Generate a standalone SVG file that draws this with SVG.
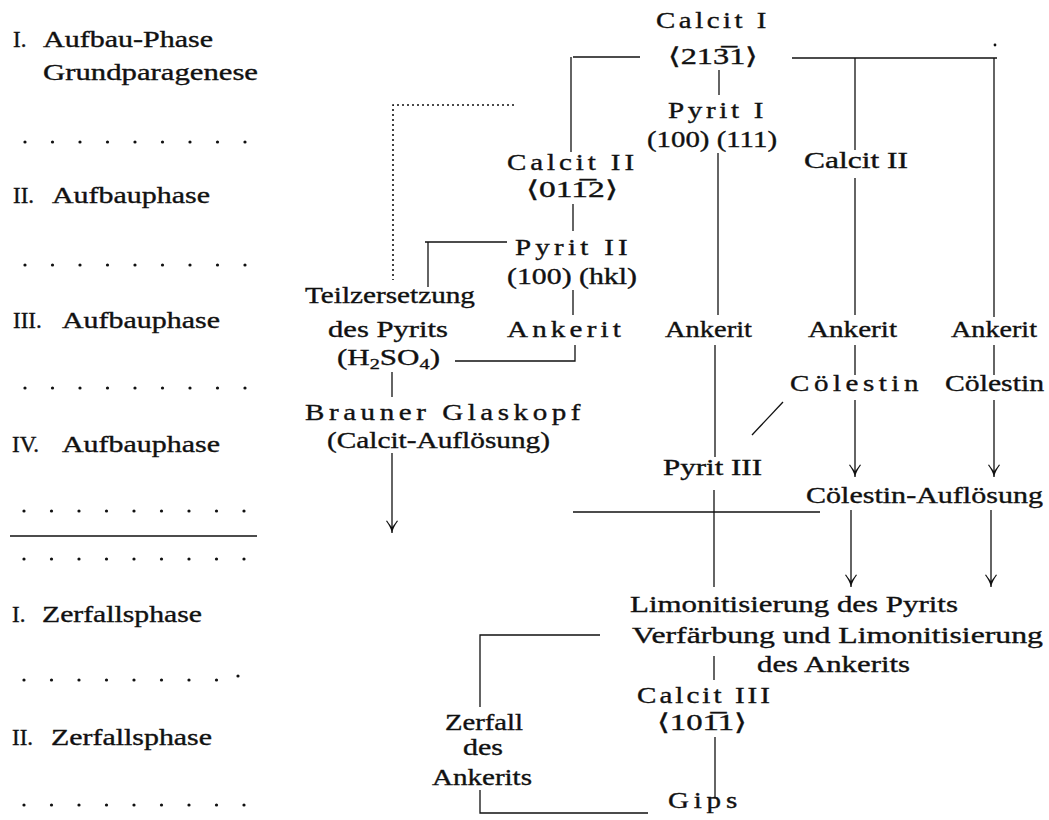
<svg xmlns="http://www.w3.org/2000/svg" width="1049" height="820" viewBox="0 0 1049 820">
<style>
  text { font-family: "Liberation Serif", "Times New Roman", serif; font-size: 23px; fill: #111; stroke: #111; stroke-width: 0.35; }
  .ln { stroke: #111; stroke-width: 1.3; fill: none; }
  .dot { stroke: #111; stroke-width: 1.6; fill: none; stroke-dasharray: 2 3; }
  .arr { marker-end: url(#ya); }
  .pd { fill: #111; }
</style>
<defs>
  <marker id="ya" markerUnits="userSpaceOnUse" orient="auto" markerWidth="16" markerHeight="16" refX="0" refY="0" overflow="visible">
    <path d="M0,0 C-4,-1 -8,-3 -12,-6 L-12.6,-5 C-9,-2.5 -7,-1 -6,0 C-7,1 -9,2.5 -12.6,5 L-12,6 C-8,3 -4,1 0,0 Z" fill="#111"/>
  </marker>
</defs>
<rect width="1049" height="820" fill="#fff"/>

<g id="phases">
  <g id="phase-a1"><text x="13" y="47">I.</text><text x="43" y="47" textLength="170" lengthAdjust="spacingAndGlyphs">Aufbau-Phase</text>
    <text x="43" y="80" textLength="215" lengthAdjust="spacingAndGlyphs">Grundparagenese</text></g>
  <g id="phase-a2"><text x="13" y="203">II.</text><text x="52" y="203" textLength="158" lengthAdjust="spacingAndGlyphs">Aufbauphase</text></g>
  <g id="phase-a3"><text x="13" y="328">III.</text><text x="62" y="328" textLength="158" lengthAdjust="spacingAndGlyphs">Aufbauphase</text></g>
  <g id="phase-a4"><text x="12" y="452">IV.</text><text x="62" y="452" textLength="158" lengthAdjust="spacingAndGlyphs">Aufbauphase</text></g>
  <g id="phase-z1"><text x="12" y="622">I.</text><text x="42" y="622" textLength="160" lengthAdjust="spacingAndGlyphs">Zerfallsphase</text></g>
  <g id="phase-z2"><text x="12" y="745">II.</text><text x="51" y="745" textLength="161" lengthAdjust="spacingAndGlyphs">Zerfallsphase</text></g>
</g>

<g id="phase-dots" class="pd">
  <g id="dots1"><circle cx="25" cy="142" r="1.6"/><circle cx="52.5" cy="142" r="1.6"/><circle cx="80" cy="142" r="1.6"/><circle cx="107.5" cy="142" r="1.6"/><circle cx="135" cy="142" r="1.6"/><circle cx="162.5" cy="142" r="1.6"/><circle cx="190" cy="142" r="1.6"/><circle cx="217.5" cy="142" r="1.6"/><circle cx="245" cy="142" r="1.6"/></g>
  <g id="dots2"><circle cx="25" cy="265" r="1.6"/><circle cx="52.5" cy="265" r="1.6"/><circle cx="80" cy="265" r="1.6"/><circle cx="107.5" cy="265" r="1.6"/><circle cx="135" cy="265" r="1.6"/><circle cx="162.5" cy="265" r="1.6"/><circle cx="190" cy="265" r="1.6"/><circle cx="217.5" cy="265" r="1.6"/><circle cx="245" cy="265" r="1.6"/></g>
  <g id="dots3"><circle cx="25" cy="388" r="1.6"/><circle cx="52.5" cy="388" r="1.6"/><circle cx="80" cy="388" r="1.6"/><circle cx="107.5" cy="388" r="1.6"/><circle cx="135" cy="388" r="1.6"/><circle cx="162.5" cy="388" r="1.6"/><circle cx="190" cy="388" r="1.6"/><circle cx="217.5" cy="388" r="1.6"/><circle cx="245" cy="388" r="1.6"/></g>
  <g id="dots4"><circle cx="24" cy="511" r="1.6"/><circle cx="51.5" cy="511" r="1.6"/><circle cx="79" cy="511" r="1.6"/><circle cx="106.5" cy="511" r="1.6"/><circle cx="134" cy="511" r="1.6"/><circle cx="161.5" cy="511" r="1.6"/><circle cx="189" cy="511" r="1.6"/><circle cx="216.5" cy="511" r="1.6"/><circle cx="244" cy="511" r="1.6"/></g>
  <g id="dots5"><circle cx="24" cy="559" r="1.6"/><circle cx="51.5" cy="559" r="1.6"/><circle cx="79" cy="559" r="1.6"/><circle cx="106.5" cy="559" r="1.6"/><circle cx="134" cy="559" r="1.6"/><circle cx="161.5" cy="559" r="1.6"/><circle cx="189" cy="559" r="1.6"/><circle cx="216.5" cy="559" r="1.6"/><circle cx="244" cy="559" r="1.6"/></g>
  <g id="dots6"><circle cx="24" cy="680" r="1.6"/><circle cx="51.5" cy="680" r="1.6"/><circle cx="79" cy="680" r="1.6"/><circle cx="106.5" cy="680" r="1.6"/><circle cx="134" cy="680" r="1.6"/><circle cx="161.5" cy="680" r="1.6"/><circle cx="189" cy="680" r="1.6"/><circle cx="216.5" cy="680" r="1.6"/><circle cx="238" cy="676" r="1.6"/></g>
  <g id="dots7"><circle cx="24" cy="805" r="1.6"/><circle cx="51.5" cy="805" r="1.6"/><circle cx="79" cy="805" r="1.6"/><circle cx="106.5" cy="805" r="1.6"/><circle cx="134" cy="805" r="1.6"/><circle cx="161.5" cy="805" r="1.6"/><circle cx="189" cy="805" r="1.6"/><circle cx="216.5" cy="805" r="1.6"/><circle cx="244" cy="805" r="1.6"/></g>
  <line class="ln" x1="10" y1="536" x2="257" y2="536" stroke-width="1.6"/>
</g>

<g id="connectors">
  <line class="ln" x1="573" y1="57" x2="640" y2="57"/>
  <line class="ln" x1="571" y1="57" x2="571" y2="152"/>
  <line class="ln" x1="719" y1="70" x2="719" y2="95"/>
  <line class="ln" x1="792" y1="58" x2="997" y2="58"/>
  <circle cx="995" cy="45" r="1.4" fill="#111"/>
  <line class="ln" x1="855" y1="58" x2="855" y2="150"/>
  <line class="ln" x1="994" y1="58" x2="994" y2="317"/>
  <line class="ln" x1="718" y1="153" x2="718" y2="315"/>
  <line class="ln" x1="855" y1="178" x2="855" y2="315"/>
  <path class="dot" d="M514,105 H393 V280"/>
  <line class="ln" x1="573" y1="204" x2="573" y2="231"/>
  <line class="ln" x1="425" y1="242" x2="507" y2="242"/>
  <line class="ln" x1="428" y1="242" x2="428" y2="287"/>
  <line class="ln" x1="573" y1="290" x2="573" y2="315"/>
  <polyline class="ln" points="575,345 575,361 455,361"/>
  <line class="ln" x1="392" y1="372" x2="392" y2="397"/>
  <line class="ln arr" x1="392" y1="453" x2="392" y2="533"/>
  <line class="ln" x1="715" y1="345" x2="715" y2="457"/>
  <line class="ln" x1="855" y1="345" x2="855" y2="375"/>
  <line class="ln" x1="994" y1="345" x2="994" y2="375"/>
  <line class="ln" x1="752" y1="435" x2="783" y2="402"/>
  <line class="ln arr" x1="855" y1="400" x2="855" y2="477"/>
  <line class="ln arr" x1="994" y1="400" x2="994" y2="477"/>
  <line class="ln" x1="714" y1="490" x2="714" y2="587"/>
  <line class="ln" x1="573" y1="512" x2="820" y2="512"/>
  <line class="ln arr" x1="851" y1="510" x2="851" y2="587"/>
  <line class="ln arr" x1="991" y1="510" x2="991" y2="587"/>
  <polyline class="ln" points="600,635 480,635 480,707"/>
  <line class="ln" x1="714" y1="656" x2="714" y2="680"/>
  <line class="ln" x1="715" y1="737" x2="715" y2="797"/>
  <polyline class="ln" points="480,790 480,813 648,813"/>
</g>

<g id="calcit1"><text x="656" y="28" letter-spacing="2.8" textLength="114" lengthAdjust="spacingAndGlyphs">Calcit I</text>
  <text x="668" y="64" textLength="90" lengthAdjust="spacingAndGlyphs">⟨213̅1⟩</text></g>
<g id="pyrit1"><text x="668" y="118" letter-spacing="2.9" textLength="99" lengthAdjust="spacingAndGlyphs">Pyrit I</text>
  <text x="647" y="147" textLength="130" lengthAdjust="spacingAndGlyphs">(100) (111)</text></g>
<g id="calcit2a"><text x="507" y="170" letter-spacing="3.1" textLength="131" lengthAdjust="spacingAndGlyphs">Calcit II</text>
  <text x="526" y="197" textLength="92" lengthAdjust="spacingAndGlyphs">⟨011̅2⟩</text></g>
<g id="calcit2b"><text x="804" y="168" textLength="104" lengthAdjust="spacingAndGlyphs">Calcit II</text></g>
<g id="pyrit2"><text x="515" y="255" letter-spacing="3.4" textLength="117" lengthAdjust="spacingAndGlyphs">Pyrit II</text>
  <text x="507" y="284" textLength="130" lengthAdjust="spacingAndGlyphs">(100) (hkl)</text></g>
<g id="teilzersetzung"><text x="305" y="303" textLength="170" lengthAdjust="spacingAndGlyphs">Teilzersetzung</text>
  <text x="328" y="337" textLength="120" lengthAdjust="spacingAndGlyphs">des Pyrits</text>
  <text x="337" y="365" textLength="103" lengthAdjust="spacingAndGlyphs">(H<tspan font-size="15" dy="4">2</tspan><tspan dy="-4">SO</tspan><tspan font-size="15" dy="4">4</tspan><tspan dy="-4">)</tspan></text></g>
<g id="ankerit1"><text x="507" y="337" letter-spacing="3.3" textLength="118" lengthAdjust="spacingAndGlyphs">Ankerit</text></g>
<g id="ankerit2"><text x="665" y="337" textLength="87" lengthAdjust="spacingAndGlyphs">Ankerit</text></g>
<g id="ankerit3"><text x="808" y="337" textLength="89" lengthAdjust="spacingAndGlyphs">Ankerit</text></g>
<g id="ankerit4"><text x="951" y="337" textLength="86" lengthAdjust="spacingAndGlyphs">Ankerit</text></g>
<g id="glaskopf"><text x="305" y="420" letter-spacing="3.6" textLength="280" lengthAdjust="spacingAndGlyphs">Brauner Glaskopf</text>
  <text x="327" y="448" textLength="223" lengthAdjust="spacingAndGlyphs">(Calcit-Auflösung)</text></g>
<g id="coelestin1"><text x="790" y="391" letter-spacing="3.6" textLength="133" lengthAdjust="spacingAndGlyphs">Cölestin</text></g>
<g id="coelestin2"><text x="945" y="391" textLength="99" lengthAdjust="spacingAndGlyphs">Cölestin</text></g>
<g id="pyrit3"><text x="663" y="475" textLength="99" lengthAdjust="spacingAndGlyphs">Pyrit III</text></g>
<g id="coelestin-aufloesung"><text x="806" y="503" textLength="237" lengthAdjust="spacingAndGlyphs">Cölestin-Auflösung</text></g>
<g id="limonitisierung"><text x="630" y="612" textLength="328" lengthAdjust="spacingAndGlyphs">Limonitisierung des Pyrits</text>
  <text x="632" y="643" textLength="411" lengthAdjust="spacingAndGlyphs">Verfärbung und Limonitisierung</text>
  <text x="757" y="672" textLength="153" lengthAdjust="spacingAndGlyphs">des Ankerits</text></g>
<g id="calcit3"><text x="637" y="703" letter-spacing="2.4" textLength="136" lengthAdjust="spacingAndGlyphs">Calcit III</text>
  <text x="657" y="730" textLength="90" lengthAdjust="spacingAndGlyphs">⟨101̅1⟩</text></g>
<g id="zerfall"><text x="445" y="730" textLength="78" lengthAdjust="spacingAndGlyphs">Zerfall</text>
  <text x="463" y="755" textLength="40" lengthAdjust="spacingAndGlyphs">des</text>
  <text x="432" y="785" textLength="100" lengthAdjust="spacingAndGlyphs">Ankerits</text></g>
<g id="gips"><text x="668" y="808" letter-spacing="3.8" textLength="74" lengthAdjust="spacingAndGlyphs">Gips</text></g>
</svg>
